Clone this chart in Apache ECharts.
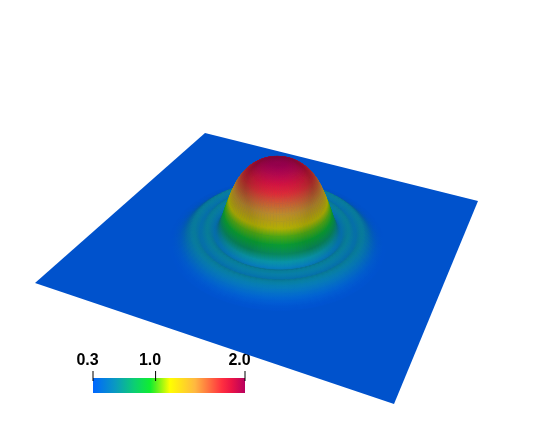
<!DOCTYPE html>
<html>
<head>
<meta charset="utf-8">
<style>html,body{margin:0;background:#fff}#box{width:538px;height:434px}</style>
<script src="https://cdn.jsdelivr.net/npm/echarts@6/dist/echarts.min.js"></script>
</head>
<body>
<div id="box"></div>
<script>
// radial cut through the bump: distance from centre (plate half width = 1) and field value
var profileRadius = [0,.015,.03,.045,.06,.075,.09,.105,.12,.135,.15,.165,.18,.195,.21,.225,.24,.255,.27,.285,.3,.315,.33,.345,.36,.375,.39,.405,.42,.435,.45,.465,.48,.495,.51,.525,.54,.555,.57,.585,.6,.615,.63,.645,.66];
var profileValue = [2,2,2,2,1.99,1.98,1.97,1.96,1.94,1.92,1.89,1.86,1.82,1.78,1.73,1.67,1.6,1.52,1.42,1.3,1.17,1.03,.88,.72,.58,.49,.47,.51,.55,.56,.53,.49,.48,.52,.55,.54,.5,.46,.41,.37,.34,.32,.31,.3,.3];
var flatValue = 0.3;

// colour bar
var barMin = 0.3, barMax = 2.0;
var barTicks = [0.3, 1.0, 2.0];
var stopValue = [0.3, 0.55, 0.77, 0.94, 1.0, 1.16, 1.44, 1.74, 1.85, 2.0];
var stopColor = [[0,102,255],[10,154,192],[12,208,112],[16,238,48],[80,240,32],[255,255,0],[255,184,64],[255,48,64],[235,20,70],[184,0,94]];

// camera: where the plate corners land, and how height and light behave
var corners = {backLeft:[205,133], backRight:[478,201], frontRight:[394,404], frontLeft:[35,283]};
var heightPx = 43.5, heightWorld = 0.33, sectors = 96;
var plateU = 0.96, plateV = 1.03;

var p0 = corners.frontLeft, p1 = corners.frontRight, p2 = corners.backRight, p3 = corners.backLeft;
var dx1 = p1[0]-p2[0], dx2 = p3[0]-p2[0], sx = p0[0]-p1[0]+p2[0]-p3[0];
var dy1 = p1[1]-p2[1], dy2 = p3[1]-p2[1], sy = p0[1]-p1[1]+p2[1]-p3[1];
var det = dx1*dy2-dx2*dy1;
var hg = (sx*dy2-dx2*sy)/det, hh = (dx1*sy-sx*dy1)/det;
var ha = p1[0]-p0[0]+hg*p1[0], hb = p3[0]-p0[0]+hh*p3[0], hc = p0[0];
var hd = p1[1]-p0[1]+hg*p1[1], he = p3[1]-p0[1]+hh*p3[1], hf = p0[1];
var w0 = hg*.5+hh*.5+1;

function project(u, v, value) {
	var s = (u+1)/2, t = (v+1)/2;
	var w = hg*s+hh*t+1;
	var x = (ha*s+hb*t+hc)/w, y = (hd*s+he*t+hf)/w;
	return [x, y-(value-flatValue)*heightPx*w0/w];
}
function ringPoint(r, a, value) {
	return project(r*plateU*Math.cos(a), r*plateV*Math.sin(a), value);
}

// plate direction that points down the screen, used for the light
var downAngle = (function() {
	var best = 0, bestY = -1e9;
	for (var a = 0; a < 360; a++) {
		var c = ringPoint(.3, a*Math.PI/180, flatValue);
		if (c[1] > bestY) { bestY = c[1]; best = a*Math.PI/180; }
	}
	return best;
})();
var lightH = Math.cos(Math.PI/3), lightZ = Math.sin(Math.PI/3);

function colorAt(value) {
	for (var i = 1; i < stopValue.length; i++) {
		if (value <= stopValue[i]) {
			var f = (value-stopValue[i-1])/(stopValue[i]-stopValue[i-1]);
			return stopColor[i].map(function(c, k) { return stopColor[i-1][k]+(c-stopColor[i-1][k])*f; });
		}
	}
	return stopColor[stopColor.length-1];
}
function shaded(value, slope, angle) {
	var len = Math.sqrt(slope*slope+1);
	var ndl = (-slope*Math.cos(angle-downAngle)*lightH+lightZ)/len;
	var k = Math.min(1, Math.max(.64, .8+(ndl-lightZ)*.9));
	var c = colorAt(value);
	return 'rgb('+Math.round(c[0]*k)+','+Math.round(c[1]*k)+','+Math.round(c[2]*k)+')';
}
// colour at a ring vertex, slope taken over a few rings so the shading stays soft
function ringColor(i, angle) {
	var lo = Math.max(0, i-2), hi = Math.min(profileRadius.length-1, i+2);
	var slope = (profileValue[hi]-profileValue[lo])*heightWorld/(profileRadius[hi]-profileRadius[lo]);
	if (profileValue[i] < 0.6) slope *= 0.3;
	return shaded(profileValue[i], slope, angle);
}

var cells = [];
for (var i = 0; i < profileRadius.length-1; i++) {
	for (var j = 0; j < sectors; j++) {
		var a = (j+.5)/sectors*2*Math.PI, r = (profileRadius[i]+profileRadius[i+1])/2;
		cells.push([i, j, ringPoint(r, a, flatValue)[1]]);
	}
}
cells.sort(function(a, b) { return a[2]-b[2]; });

function renderPlate(params, api) {
	var pts = [[-1,1],[1,1],[1,-1],[-1,-1]].map(function(c) { return api.coord(project(c[0], c[1], flatValue)); });
	return {type:'polygon', shape:{points:pts}, style:{fill:shaded(flatValue,0,0)}};
}
function renderCell(params, api) {
	var i = api.value(0), j = api.value(1);
	var a0 = j/sectors*2*Math.PI, a1 = (j+1)/sectors*2*Math.PI, am = (a0+a1)/2;
	var r0 = profileRadius[i], r1 = profileRadius[i+1], v0 = profileValue[i], v1 = profileValue[i+1];
	var pts = [
		ringPoint(r0, a0, v0),
		ringPoint(r1, a0, v1),
		ringPoint(r1, a1, v1),
		ringPoint(r0, a1, v0)
	].map(function(p) { return api.coord(p); });
	var g0 = api.coord(ringPoint(r0, am, v0)), g1 = api.coord(ringPoint(r1, am, v1));
	var col = new echarts.graphic.LinearGradient(g0[0], g0[1], g1[0], g1[1], [
		{offset:0, color:ringColor(i, am)},
		{offset:1, color:ringColor(i+1, am)}
	], true);
	return {type:'polygon', shape:{points:pts}, style:{fill:col, stroke:col, lineWidth:.7}};
}
// bar strip: y runs in strip rows, ticks on top of the colours
var stripRows = 22, barTop = 7, tickEnd = 10;
function renderBar(params, api) {
	var a = api.coord([barMin, stripRows]), b = api.coord([barMax, barTop]);
	var stops = stopValue.map(function(v, i) {
		return {offset:(v-barMin)/(barMax-barMin), color:'rgb('+stopColor[i].join(',')+')'};
	});
	return {type:'rect', shape:{x:a[0], y:b[1], width:b[0]-a[0], height:a[1]-b[1]},
		style:{fill:new echarts.graphic.LinearGradient(0,0,1,0,stops)}};
}
function renderTick(params, api) {
	var a = api.coord([api.value(0), 0]), b = api.coord([api.value(0), tickEnd]);
	return {type:'line', shape:{x1:a[0], y1:a[1], x2:b[0], y2:b[1]}, style:{stroke:'#000', lineWidth:1}};
}

var chart = echarts.init(document.getElementById('box'));
chart.setOption({
	animation: false,
	backgroundColor: '#fff',
	grid: [
		{left:0, top:0, width:538, height:434},
		{left:93, top:371, width:152, height:stripRows}
	],
	xAxis: [
		{gridIndex:0, type:'value', min:0, max:538, show:false},
		{gridIndex:1, type:'value', min:barMin, max:barMax, position:'top',
			splitLine:{show:false}, axisLine:{show:false}, axisTick:{show:false},
			axisLabel:{customValues:barTicks, margin:2, padding:[0,11,0,0], color:'#000',
				fontFamily:'Liberation Sans', fontWeight:'bold', fontSize:16,
				formatter:function(v) { return v.toFixed(1); }}}
	],
	yAxis: [
		{gridIndex:0, type:'value', min:0, max:434, inverse:true, show:false},
		{gridIndex:1, type:'value', min:0, max:stripRows, inverse:true, show:false}
	],
	series: [
		{type:'custom', xAxisIndex:0, yAxisIndex:0, silent:true, clip:false, data:[[0]], renderItem:renderPlate},
		{type:'custom', xAxisIndex:0, yAxisIndex:0, silent:true, clip:false, progressive:0, data:cells, renderItem:renderCell},
		{type:'custom', xAxisIndex:1, yAxisIndex:1, silent:true, clip:false, data:[[barMin]], renderItem:renderBar},
		{type:'custom', xAxisIndex:1, yAxisIndex:1, silent:true, clip:false, z:3, data:barTicks.map(function(t) { return [t]; }), renderItem:renderTick}
	]
});
</script>
</body>
</html>
